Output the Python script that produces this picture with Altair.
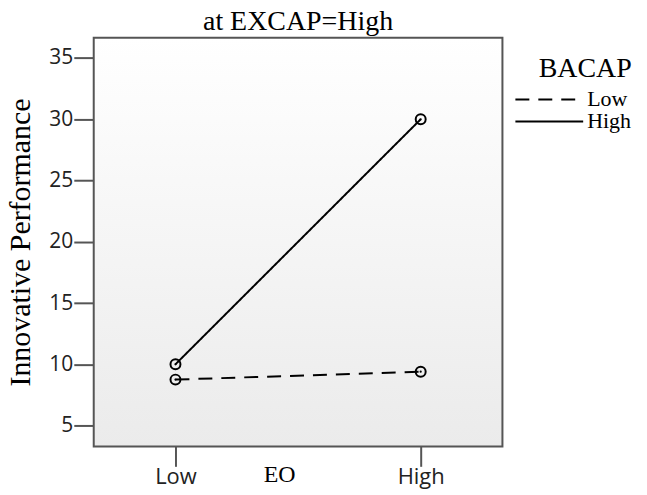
import altair as alt
import pandas as pd

eo_levels = ["Low", "High"]
bacap_levels = ["Low", "High"]
bacap_low_values = [8.75, 9.4]
bacap_high_values = [10.0, 30.0]
y_ticks = [5, 10, 15, 20, 25, 30, 35]

rows = []
for grp, vals in zip(bacap_levels, [bacap_low_values, bacap_high_values]):
    for e, v in zip(eo_levels, vals):
        rows.append({"EO": e, "BACAP": grp, "value": v})
df = pd.DataFrame(rows)

W = 410
H = 410

bg = alt.Chart(pd.DataFrame({"a": [0]})).mark_rect(
    fill={
        "gradient": "linear", "x1": 0, "y1": 0, "x2": 0, "y2": 1,
        "stops": [{"offset": 0, "color": "#ffffff"}, {"offset": 1, "color": "#ebebeb"}],
    },
    stroke="#555", strokeWidth=2,
).encode(x=alt.value(0), x2=alt.value(W), y=alt.value(0), y2=alt.value(H))

x_enc = alt.X(
    "EO:N", sort=eo_levels,
    scale=alt.Scale(type="point", padding=1 / 3, domain=eo_levels),
    axis=alt.Axis(
        title="EO", titleFont="Liberation Serif", titleFontSize=24, titleFontWeight="normal",
        titleColor="black", titleX=186, titleY=16, titleBaseline="top", titleAlign="center",
        labelFont="Open Sans", labelFontSize=22, labelColor="#222", labelAngle=0, labelPadding=0,
        tickSize=20, tickWidth=2, tickColor="#555", domain=False, grid=False,
    ),
)
y_enc = alt.Y(
    "value:Q",
    scale=alt.Scale(domain=[3.3, 36.66], nice=False, zero=False),
    axis=alt.Axis(
        values=y_ticks, title="Innovative Performance", titleFont="Liberation Serif",
        titleFontSize=30, titleFontWeight="normal", titleColor="black", titlePadding=13,
        labelFont="Open Sans", labelFontSize=21, labelColor="#222", labelPadding=1,
        tickSize=20, tickWidth=2, tickColor="#555", domain=False, grid=False,
    ),
)

base = alt.Chart(df)

lines = base.mark_line(color="black", strokeWidth=2).encode(
    x=x_enc, y=y_enc,
    strokeDash=alt.StrokeDash(
        "BACAP:N", sort=bacap_levels,
        scale=alt.Scale(domain=bacap_levels, range=[[14, 9], [1, 0]]),
        legend=alt.Legend(
            title="BACAP", orient="none", legendX=446, legendY=17,
            symbolType="M-4,0H4", symbolSize=289, symbolStrokeWidth=2,
            symbolStrokeColor="black", labelFont="Liberation Serif", labelFontSize=22,
            labelColor="black", labelOffset=27, titleFont="Liberation Serif",
            titleFontSize=28, titleFontWeight="normal", titleColor="black",
            titlePadding=6, titleAnchor="middle", titleAlign="center",
            rowPadding=0, padding=0,
        ),
    ),
)

rings = base.mark_point(shape="circle", filled=False, size=100, strokeWidth=2,
                        color="black", opacity=1).encode(x=x_enc, y=y_enc)
dots = base.mark_point(shape="circle", filled=True, size=5, color="black",
                       opacity=1).encode(x=x_enc, y=y_enc)

chart = alt.layer(bg, lines, rings, dots).properties(
    width=W, height=H,
    title=alt.TitleParams("at EXCAP=High", font="Liberation Serif", fontSize=28,
                          fontWeight="normal", color="black", offset=1, anchor="middle"),
    autosize=alt.AutoSizeParams(type="none"),
    padding={"left": 86, "top": 29, "right": 137, "bottom": 46},
).configure_view(strokeWidth=0)

chart.save("out.html", embed_options={"renderer": "svg", "actions": False})
